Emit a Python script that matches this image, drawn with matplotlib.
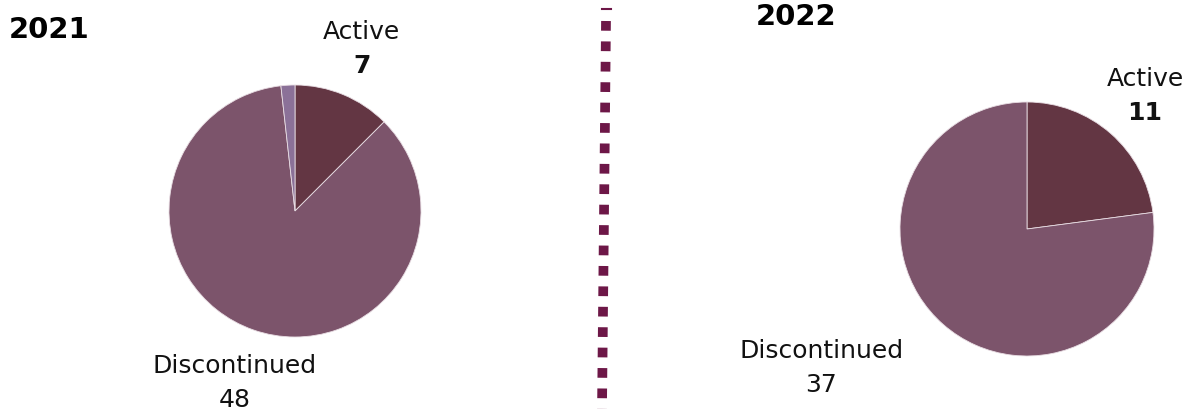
import matplotlib.pyplot as plt
from matplotlib.lines import Line2D

# data
labels_2021 = ["Active", "Discontinued", ""]
values_2021 = [7, 48, 1]
labels_2022 = ["Active", "Discontinued"]
values_2022 = [11, 37]
colors = ["#633643", "#7c546b", "#8b7198"]

plt.rcParams['font.family'] = ['DejaVu Sans']

W, H = 1195, 410
fig = plt.figure(figsize=(W / 100, H / 100), dpi=100)


def pie_axes(cx, cy, r):
    # cx, cy in image pixels (y from top)
    ax = fig.add_axes([(cx - r) / W, (H - cy - r) / H, 2 * r / W, 2 * r / H])
    ax.set_xlim(-1, 1)
    ax.set_ylim(-1, 1)
    ax.axis('off')
    return ax


def label(ax, x, y, name, val, bold_val):
    ax.text(x, y, name, ha='center', va='center', fontsize=18, color='#111111', clip_on=False)
    ax.text(x, y - 0.27, str(val), ha='center', va='center', fontsize=18, color='#111111',
            fontweight='bold' if bold_val else 'normal', clip_on=False)


# 2021
ax1 = pie_axes(295, 212, 126)
ax1.pie(values_2021, colors=colors, startangle=90, counterclock=False, radius=1,
        wedgeprops=dict(linewidth=0.6, edgecolor='#e8dde3'))
ax1.set_xlim(-1, 1)
ax1.set_ylim(-1, 1)
label(ax1, 0.53, 1.43, labels_2021[0], values_2021[0], True)
label(ax1, -0.48, -1.22, labels_2021[1], values_2021[1], False)
fig.text(9 / W, 1 - 30 / H, "2021", fontsize=21, fontweight='bold', va='center', ha='left')

# 2022
ax2 = pie_axes(1027, 230, 127)
ax2.pie(values_2022, colors=colors[:2], startangle=90, counterclock=False, radius=1,
        wedgeprops=dict(linewidth=0.6, edgecolor='#e8dde3'))
ax2.set_xlim(-1, 1)
ax2.set_ylim(-1, 1)
label(ax2, 0.93, 1.19, labels_2022[0], values_2022[0], True)
label(ax2, -1.62, -0.95, labels_2022[1], values_2022[1], False)
fig.text(756 / W, 1 - 17 / H, "2022", fontsize=21, fontweight='bold', va='center', ha='left')

# divider
fig.add_artist(Line2D([606 / W, 602 / W], [1 - 22 / H, 0], transform=fig.transFigure,
                      color='#6d1747', linewidth=7, linestyle=(0, (1.0, 1.1)),
                      solid_capstyle='butt', dash_capstyle='butt'))
fig.add_artist(Line2D([602 / W, 611 / W], [1 - 10 / H, 1 - 10 / H], transform=fig.transFigure,
                      color='#6d1747', linewidth=1.5))

fig.savefig("out.png", dpi=100, facecolor='white')
